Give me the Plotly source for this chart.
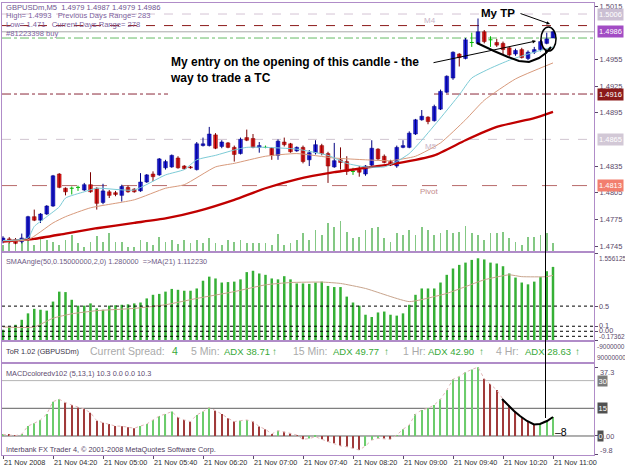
import plotly.graph_objects as go

FONT = "Liberation Sans"
BORDER = "#b08cc8"
AXTXT = "#5a4a6a"
MTTXT = "#7d5f9e"

# ---------------- data ----------------
# time axis: one bar every 5 minutes starting 21 Nov 2008 03:40
tick_bar = [0, 8, 16, 24, 32, 40, 48, 56, 64, 72, 80, 88]
tick_text = ["21 Nov 2008", "21 Nov 04:20", "21 Nov 05:00", "21 Nov 05:40", "21 Nov 06:20",
             "21 Nov 07:00", "21 Nov 07:40", "21 Nov 08:20", "21 Nov 09:00", "21 Nov 09:40",
             "21 Nov 10:20", "21 Nov 11:00"]

open_ = [1.4751, 1.4753, 1.4752, 1.4750, 1.4753, 1.4778, 1.4774, 1.4781, 1.4790, 1.4826,
         1.4810, 1.4810, 1.4811, 1.4808, 1.4814, 1.4810, 1.4794, 1.4806, 1.4805, 1.4802,
         1.4811, 1.4809, 1.4807, 1.4817, 1.4826, 1.4825, 1.4833, 1.4834, 1.4844, 1.4835,
         1.4834, 1.4831, 1.4858, 1.4858, 1.4870, 1.4857, 1.4861, 1.4856, 1.4849, 1.4867,
         1.4866, 1.4856, 1.4856, 1.4855, 1.4847, 1.4862, 1.4860, 1.4852, 1.4856, 1.4842,
         1.4850, 1.4858, 1.4849, 1.4834, 1.4842, 1.4840, 1.4829, 1.4831, 1.4826, 1.4836,
         1.4854, 1.4846, 1.4840, 1.4835, 1.4856, 1.4856, 1.4871, 1.4887, 1.4890, 1.4886,
         1.4899, 1.4918, 1.4934, 1.4961, 1.4956, 1.4974, 1.4973, 1.4986, 1.4977, 1.4974,
         1.4973, 1.4968, 1.4961, 1.4966, 1.4956, 1.4963, 1.4966, 1.4973, 1.4979]
high_ = [1.4756, 1.4755, 1.4754, 1.4759, 1.4779, 1.4786, 1.4782, 1.4791, 1.4825, 1.4827,
         1.4811, 1.4812, 1.4813, 1.4816, 1.4828, 1.4811, 1.4815, 1.4808, 1.4807, 1.4814,
         1.4813, 1.4810, 1.4827, 1.4826, 1.4829, 1.4844, 1.4842, 1.4848, 1.4846, 1.4836,
         1.4835, 1.4862, 1.4867, 1.4879, 1.4872, 1.4864, 1.4862, 1.4858, 1.4867, 1.4876,
         1.4871, 1.4862, 1.4858, 1.4856, 1.4865, 1.4867, 1.4861, 1.4857, 1.4858, 1.4853,
         1.4864, 1.4860, 1.4851, 1.4861, 1.4856, 1.4846, 1.4833, 1.4835, 1.4836, 1.4864,
         1.4855, 1.4848, 1.4842, 1.4858, 1.4864, 1.4874, 1.4888, 1.4898, 1.4891, 1.4904,
         1.4921, 1.4937, 1.4964, 1.4962, 1.4979, 1.4985, 1.5001, 1.4988, 1.4981, 1.4978,
         1.4975, 1.4969, 1.4967, 1.4968, 1.4965, 1.4969, 1.4977, 1.4985, 1.4987]
low_ = [1.4748, 1.4748, 1.4747, 1.4748, 1.4752, 1.4773, 1.4771, 1.4780, 1.4789, 1.4810,
        1.4802, 1.4803, 1.4807, 1.4807, 1.4805, 1.4786, 1.4792, 1.4799, 1.4801, 1.4795,
        1.4805, 1.4805, 1.4806, 1.4816, 1.4818, 1.4824, 1.4831, 1.4833, 1.4832, 1.4831,
        1.4832, 1.4830, 1.4857, 1.4857, 1.4854, 1.4855, 1.4855, 1.4840, 1.4848, 1.4863,
        1.4855, 1.4850, 1.4855, 1.4842, 1.4842, 1.4857, 1.4850, 1.4851, 1.4838, 1.4835,
        1.4848, 1.4847, 1.4816, 1.4833, 1.4831, 1.4825, 1.4825, 1.4823, 1.4824, 1.4835,
        1.4842, 1.4838, 1.4835, 1.4833, 1.4855, 1.4855, 1.4870, 1.4886, 1.4882, 1.4885,
        1.4898, 1.4917, 1.4932, 1.4947, 1.4955, 1.4969, 1.4972, 1.4973, 1.4969, 1.4969,
        1.4960, 1.4958, 1.4959, 1.4956, 1.4954, 1.4961, 1.4964, 1.4972, 1.4979]
close_ = [1.4754, 1.4750, 1.4748, 1.4754, 1.4778, 1.4774, 1.4781, 1.4790, 1.4824, 1.4811,
          1.4806, 1.4810, 1.4811, 1.4814, 1.4806, 1.4793, 1.4807, 1.4802, 1.4803, 1.4812,
          1.4806, 1.4806, 1.4817, 1.4825, 1.4823, 1.4843, 1.4840, 1.4847, 1.4833, 1.4832,
          1.4833, 1.4860, 1.4860, 1.4871, 1.4855, 1.4862, 1.4856, 1.4848, 1.4865, 1.4864,
          1.4856, 1.4858, 1.4856, 1.4847, 1.4863, 1.4859, 1.4851, 1.4856, 1.4840, 1.4850,
          1.4859, 1.4849, 1.4835, 1.4841, 1.4839, 1.4829, 1.4829, 1.4828, 1.4835, 1.4855,
          1.4843, 1.4839, 1.4836, 1.4856, 1.4858, 1.4872, 1.4887, 1.4891, 1.4885, 1.4902,
          1.4919, 1.4936, 1.4963, 1.4957, 1.4977, 1.4974, 1.4986, 1.4975, 1.4977, 1.4971,
          1.4966, 1.4960, 1.4965, 1.4957, 1.4963, 1.4966, 1.4975, 1.4978, 1.4986]
volume = [6, 8, 8, 9, 11, 6, 13, 11, 9, 6, 11, 16, 8, 4, 9, 15, 9, 18, 9, 9,
          4, 4, 11, 9, 6, 14, 9, 11, 7, 11, 8, 11, 8, 13, 8, 6, 11, 9, 11, 8,
          8, 8, 8, 6, 17, 6, 8, 11, 18, 11, 21, 16, 28, 24, 30, 19, 13, 14, 21, 23,
          24, 13, 9, 18, 16, 21, 16, 24, 21, 16, 18, 21, 18, 19, 25, 18, 16, 11, 18, 18,
          19, 13, 9, 6, 14, 14, 16, 18, 8]

ma_fast_bar = [0, 4, 5, 7, 9, 10, 13, 15, 21, 26, 29, 31, 34, 37, 39, 42, 47, 52, 55, 58,
               61, 63, 65, 67, 70, 73, 75, 78, 81, 84, 88]
ma_fast = [1.4751, 1.4754, 1.4767, 1.4778, 1.4789, 1.4799, 1.4806, 1.4810, 1.4808, 1.4825,
           1.4831, 1.4842, 1.4847, 1.4853, 1.4856, 1.4856, 1.4854, 1.4847, 1.4838, 1.4834,
           1.4834, 1.4840, 1.4849, 1.4864, 1.4889, 1.4915, 1.4934, 1.4945, 1.4954, 1.4961, 1.4969]
ma_mid_bar = [0, 4, 8, 10, 14, 21, 26, 29, 34, 37, 42, 47, 53, 58, 62, 66, 70, 74, 77, 82, 88]
ma_mid = [1.4751, 1.4752, 1.4771, 1.4778, 1.4788, 1.4797, 1.4810, 1.4814, 1.4834, 1.4838,
          1.4846, 1.4849, 1.4844, 1.4842, 1.4841, 1.4846, 1.4861, 1.4887, 1.4909, 1.4933, 1.4951]
ma_slow_bar = [0, 5, 10, 15, 21, 26, 31, 37, 42, 47, 53, 58, 63, 69, 74, 79, 85, 88]
ma_slow = [1.4750, 1.4753, 1.4759, 1.4765, 1.4771, 1.4776, 1.4784, 1.4797, 1.4810, 1.4820,
           1.4828, 1.4833, 1.4838, 1.4847, 1.4864, 1.4879, 1.4889, 1.4896]

price_range = [1.47394, 1.50184]
price_ticks = [1.5015, 1.4955, 1.4925, 1.4895, 1.4835, 1.4805, 1.4775, 1.4745]
level_price = [1.5006, 1.4993, 1.4986, 1.4979, 1.4916, 1.4865, 1.4813]
level_color = ["#d4c4d4", "#8b1a1a", "#a8a8a8", "#66bb66", "#8b2a3a", "#d0c4d0", "#b86a6a"]
level_dash = ["dash", "dash", "solid", "dashdot", "dashdot", "dash", "longdash"]
box_price = [1.5006, 1.4986, 1.4916, 1.4865, 1.4813]
box_color = ["#cbbfd3", "#a24cc4", "#8b1a1a", "#d2c8d6", "#f27e6e"]

sma_angle = [0.030, 0.083, 0.129, 0.228, 0.356, 0.446, 0.428, 0.410, 0.590, 0.788,
             0.779, 0.626, 0.509, 0.509, 0.554, 0.455, 0.428, 0.509, 0.518, 0.527,
             0.536, 0.554, 0.572, 0.653, 0.725, 0.743, 0.788, 0.842, 0.824, 0.806,
             0.806, 0.851, 1.005, 1.086, 1.050, 0.969, 0.978, 0.987, 1.032, 1.176,
             1.203, 1.149, 1.122, 1.050, 1.032, 1.095, 1.032, 0.951, 0.951, 0.942,
             0.969, 0.987, 0.901, 0.879, 0.879, 0.689, 0.572, 0.509, 0.329, 0.284,
             0.374, 0.392, 0.329, 0.311, 0.356, 0.527, 0.725, 0.851, 0.851, 0.851,
             0.969, 1.122, 1.248, 1.320, 1.365, 1.419, 1.451, 1.428, 1.365, 1.347,
             1.293, 1.149, 1.068, 0.969, 0.933, 0.987, 1.077, 1.194, 1.280]
sma_ma_bar = [0, 5, 8, 11, 15, 21, 26, 31, 37, 42, 46, 51, 54, 58, 65, 69, 71, 74, 77, 81, 83, 87, 88]
sma_ma = [0.085, 0.085, 0.26, 0.347, 0.41, 0.455, 0.527, 0.653, 0.788, 0.923, 0.969, 0.978,
          0.951, 0.851, 0.590, 0.689, 0.752, 0.887, 1.023, 1.122, 1.086, 1.086, 1.112]
sma_range = [-0.17362, 1.556125]
sma_levels = [0.5, 0.1, 0.0, -0.1]
sma_ticks = [1.556125, 0.5, 0.1, 0.0, -0.17362]
sma_tick_text = ["1.556125", "0.5", "0.1", "0.00", "-0.17362"]

macd = [0.8, 0.6, 0.2, 1.0, 5.4, 6.9, 8.7, 11.9, 18.6, 19.9,
        18.1, 16.8, 15.5, 14.6, 12.6, 8.3, 7.2, 6.5, 5.4, 5.3,
        4.7, 4.2, 5.4, 6.5, 8.7, 10.8, 11.9, 13.2, 10.1, 8.7,
        7.8, 11.4, 13.2, 15.5, 13.7, 11.9, 9.6, 7.8, 8.3, 8.7,
        7.8, 5.1, 3.6, 1.1, 2.9, 2.3, 1.4, 0.5, -1.8, -1.4,
        -0.4, -1.8, -3.1, -4.0, -5.4, -5.8, -6.7, -7.6, -5.4, -2.2,
        -1.3, -1.5, -1.8, 0.5, 3.6, 6.0, 11.9, 14.1, 15.0, 16.8,
        19.9, 24.9, 30.7, 32.2, 34.5, 36.0, 37.3, 31.0, 28.2, 24.9,
        19.9, 16.8, 13.2, 10.1, 7.8, 6.0, 6.9, 8.7, 10.3]
macd_range = [-10.3, 39.0]
macd_levels = [30, 15, 0]
macd_level_color = ["#b4b4b4", "#606060", "#606060"]
macd_ticks = [37.3, 0, -9.8]
macd_tick_text = ["37.3", "0.00", "-9.8"]
tor_labels = ["-9000000", "90000000"]

n = len(open_)
assert len(high_) == n and len(low_) == n and len(close_) == n and len(volume) == n
assert len(sma_angle) == n and len(macd) == n
assert len(ma_fast_bar) == len(ma_fast) and len(ma_mid_bar) == len(ma_mid)
assert len(ma_slow_bar) == len(ma_slow) and len(sma_ma_bar) == len(sma_ma)

# ---------------- geometry helpers (pixel -> paper) ----------------
W, H = 625, 469
ML, MR, MT, MB = 2, 31, 3, 14
PW, PH = W - ML - MR, H - MT - MB


def fx(px):
    return (px - ML) / PW


def fy(py):
    return (H - MB - py) / PH


XR = [-0.16, 94.56]
D_MAIN = [fy(251), 1.0]
D_SMA = [fy(340), fy(253)]
D_TOR = [fy(362), fy(342)]
D_MACD = [0.0, fy(364)]

bars = list(range(n))
bull = [i for i in bars if close_[i] > open_[i]]
bear = [i for i in bars if close_[i] < open_[i]]
doji = [i for i in bars if close_[i] == open_[i]]


def wicks(ids):
    xs, ys = [], []
    for i in ids:
        xs += [i, i, None]
        ys += [low_[i], high_[i], None]
    return xs, ys


fig = go.Figure()

# volume (base axis of main panel)
fig.add_trace(go.Bar(x=bars, y=volume, width=0.16, marker=dict(color="#84c884", line_width=0),
                     xaxis="x", yaxis="y", hoverinfo="skip"))

# candles on price axis (y5 overlays y)
for ids, wc in ((bull, "#000080"), (bear, "#7a0000"), (doji, "#00b400")):
    xs, ys = wicks(ids)
    fig.add_trace(go.Scatter(x=xs, y=ys, mode="lines", line=dict(color=wc, width=1),
                             xaxis="x", yaxis="y5", hoverinfo="skip"))
fig.add_trace(go.Bar(x=bull, y=[close_[i] - open_[i] for i in bull], base=[open_[i] for i in bull],
                     width=0.6, marker=dict(color="#1e1ee0", line=dict(color="#000080", width=0.5)),
                     xaxis="x", yaxis="y5", hoverinfo="skip"))
fig.add_trace(go.Bar(x=bear, y=[open_[i] - close_[i] for i in bear], base=[close_[i] for i in bear],
                     width=0.6, marker=dict(color="#e81c1c", line=dict(color="#8a0000", width=0.5)),
                     xaxis="x", yaxis="y5", hoverinfo="skip"))
dx, dy = [], []
for i in doji:
    dx += [i - 0.32, i + 0.32, None]
    dy += [open_[i], open_[i], None]
fig.add_trace(go.Scatter(x=dx, y=dy, mode="lines", line=dict(color="#00b400", width=1),
                         xaxis="x", yaxis="y5", hoverinfo="skip"))

# moving averages
fig.add_trace(go.Scatter(x=ma_slow_bar, y=ma_slow, mode="lines", line=dict(color="#c00000", width=2.3, shape="spline", smoothing=0.5),
                         xaxis="x", yaxis="y5", hoverinfo="skip"))
fig.add_trace(go.Scatter(x=ma_mid_bar, y=ma_mid, mode="lines", line=dict(color="#d89a7c", width=1, shape="spline", smoothing=0.5),
                         xaxis="x", yaxis="y5", hoverinfo="skip"))
fig.add_trace(go.Scatter(x=ma_fast_bar, y=ma_fast, mode="lines", line=dict(color="#7ccbd6", width=1, shape="spline", smoothing=0.5),
                         xaxis="x", yaxis="y5", hoverinfo="skip"))

# SMAAngle panel
fig.add_trace(go.Bar(x=bars, y=[v - sma_range[0] for v in sma_angle], base=sma_range[0], width=0.4,
                     marker=dict(color="#36b036", line_width=0), xaxis="x2", yaxis="y2", hoverinfo="skip"))
fig.add_trace(go.Scatter(x=sma_ma_bar, y=sma_ma, mode="lines", line=dict(color="#c8a48c", width=1, shape="spline", smoothing=0.5),
                         xaxis="x2", yaxis="y2", hoverinfo="skip"))

# ToR panel (text only)
fig.add_trace(go.Scatter(x=[], y=[], xaxis="x3", yaxis="y3"))

# MACD panel
mcol = ["#6ccc6c" if (i == 0 or macd[i] >= macd[i - 1]) else "#a03a3a" for i in bars]
fig.add_trace(go.Bar(x=bars, y=macd, width=0.18, marker=dict(color=mcol, line_width=0),
                     xaxis="x4", yaxis="y4", hoverinfo="skip"))
fig.add_trace(go.Scatter(x=bars, y=macd, mode="lines", line=dict(color="#e2b8b8", width=1, dash="dot"),
                         xaxis="x4", yaxis="y4", hoverinfo="skip"))

shapes = []
for p, c, d in zip(level_price, level_color, level_dash):
    shapes.append(dict(type="line", xref="x domain", yref="y5", x0=0, x1=1, y0=p, y1=p,
                       line=dict(color=c, width=1, dash=d), layer="below"))
for v in sma_levels:
    shapes.append(dict(type="line", xref="x2 domain", yref="y2", x0=0, x1=1, y0=v, y1=v,
                       line=dict(color="#000000", width=1, dash="dot"), layer="above"))
for v, c in zip(macd_levels, macd_level_color):
    shapes.append(dict(type="line", xref="x4 domain", yref="y4", x0=0, x1=1, y0=v, y1=v,
                       line=dict(color=c, width=1), layer="below"))

# hand drawn marks (pixel positions of the drawing)
shapes.append(dict(type="rect", xref="paper", yref="paper", x0=fx(168), x1=fx(431), y0=fy(101), y1=fy(50),
                   fillcolor="white", line_width=0, layer="above"))
shapes.append(dict(type="circle", xref="paper", yref="paper", x0=fx(541), x1=fx(556), y0=fy(51), y1=fy(27),
                   line=dict(color="black", width=1.5), layer="above"))


def ppath(pts):
    return "M " + " L ".join(f"{fx(a):.5f},{fy(b):.5f}" for a, b in pts)


shapes.append(dict(type="path", xref="paper", yref="paper",
                   path=ppath([(477, 43), (494, 51), (508, 57), (519, 61), (529, 62), (539, 58), (546, 53), (551, 47)]),
                   line=dict(color="black", width=2), layer="above"))
shapes.append(dict(type="path", xref="paper", yref="paper",
                   path=ppath([(502, 399), (508, 405), (514, 411), (520, 416), (527, 421), (534, 424.5), (540, 424), (547, 421), (553, 417)]),
                   line=dict(color="black", width=2), layer="above"))
shapes.append(dict(type="line", xref="paper", yref="paper", x0=fx(545.5), x1=fx(545.5), y0=fy(418), y1=fy(51),
                   line=dict(color="black", width=1), layer="above"))


def ann(px, py, text, size=7.5, color=MTTXT, xanchor="left", bold=False, **kw):
    t = f"<b>{text}</b>" if bold else text
    return dict(x=fx(px), y=fy(py), xref="paper", yref="paper", text=t, showarrow=False,
                xanchor=xanchor, yanchor="middle", font=dict(family=FONT, size=size, color=color), **kw)


NB = "\u00a0"
anns = [
    ann(4, 7, f"GBPUSDm,M5{NB}{NB}1.4979{NB}1.4987{NB}1.4979{NB}1.4986", 7.6, "#6e5490"),
    ann(4, 15.5, f"High={NB}1.4993{NB}{NB}{NB}Previous{NB}Days{NB}Range={NB}283", 7.6),
    ann(4, 24, f"Low={NB}1.471{NB}{NB}{NB}Current{NB}Days{NB}Range={NB}278", 7.6),
    ann(4, 33, "#81223398 buy", 7.6),
    ann(422, 20, "M4", 8, "#c8b4c8"),
    ann(423, 146, "M5", 8, "#c8b4c8"),
    ann(418, 191, "Pivot", 8, "#c48c8c"),
    ann(4, 261, f"SMAAngle(50,0.15000000,2,0){NB}1.280000{NB}{NB}=>MA(21){NB}1.112230", 7.3, "#6e5a84"),
    ann(4, 373, "MACDcoloredv102 (5,13,1) 10.3 0.0 0.0 10.3", 7.3, "#5e4a70"),
    ann(4, 449, "Interbank FX Trader 4, © 2001-2008 MetaQuotes Software Corp.", 7.3, "#4e3c60"),
    ann(4, 351, "ToR 1.02 (GBPUSDm)", 7.3, "#3c3448"),
    ann(88, 351, "Current Spread:", 10.5, "#aaaaaa"),
    ann(170, 351, "4", 10.5, "#38a838"),
    ann(189, 351, "5 Min:", 10.5, "#aaaaaa"),
    ann(222, 351, "ADX 38.71", 9.5, "#38a838"),
    ann(270, 351, "↑", 10, "#38a838", bold=True),
    ann(291, 351, "15 Min:", 10.5, "#aaaaaa"),
    ann(331, 351, "ADX 49.77", 9.5, "#38a838"),
    ann(382, 351, "↑", 10, "#38a838", bold=True),
    ann(401, 351, "1 Hr:", 10.5, "#aaaaaa"),
    ann(426, 351, "ADX 42.90", 9.5, "#38a838"),
    ann(477, 351, "↑", 10, "#38a838", bold=True),
    ann(494, 351, "4 Hr:", 10.5, "#aaaaaa"),
    ann(523, 351, "ADX 28.63", 9.5, "#38a838"),
    ann(573, 351, "↑", 10, "#38a838", bold=True),
    ann(595, 346.5, tor_labels[0], 6.5, AXTXT),
    ann(595, 357.5, tor_labels[1], 6.5, AXTXT),
    ann(479, 13, "My TP", 11.5, "black", bold=True),
    ann(553, 432, "–8", 10.5, "black"),
    dict(x=fx(168), y=fy(53), xref="paper", yref="paper", xanchor="left", yanchor="top", align="left",
         showarrow=False, text="<b>My entry on the opening of this candle - the<br>way to trade a TC</b>",
         font=dict(family=FONT, size=12, color="black")),
    dict(x=fx(550), y=fy(24), xref="paper", yref="paper", ax=-31, ay=-11, showarrow=True,
         arrowhead=2, arrowsize=0.7, arrowwidth=1, arrowcolor="black", text=""),
    dict(x=fx(536), y=fy(41), xref="paper", yref="paper", ax=-104, ay=22, showarrow=True,
         arrowhead=2, arrowsize=0.7, arrowwidth=1, arrowcolor="black", text=""),
]
# right-hand scale labels of the sub windows (MetaTrader draws them inset from the edges)
sma_label_px = [258, 306, 325, 330, 337]
sma_label_size = [6.5, 7.3, 7.3, 7.3, 6.5]
for t, py, sz in zip(sma_tick_text, sma_label_px, sma_label_size):
    anns.append(ann(597, py, t, sz, AXTXT))
macd_label_px = [372, 436, 450]
for t, py in zip(macd_tick_text, macd_label_px):
    anns.append(ann(598, py, t, 7.3, AXTXT))
for p, c in zip(box_price, box_color):
    anns.append(dict(x=fx(596.5), y=p, xref="paper", yref="y5", text=f"{p:.4f}", showarrow=False,
                     xanchor="left", yanchor="middle", bgcolor=c, borderpad=1,
                     font=dict(family=FONT, size=7.5, color="white")))
for v, c in zip(macd_levels, ["#7a7a7a", "#505050", "#505050"]):
    anns.append(dict(x=fx(596.5), y=v, xref="paper", yref="y4", text=f"{v}", showarrow=False,
                     xanchor="left", yanchor="middle", bgcolor=c, borderpad=0.5,
                     font=dict(family=FONT, size=7.5, color="white")))

xbase = dict(range=XR, showgrid=False, zeroline=False, showline=True, mirror=True,
             linecolor=BORDER, linewidth=1, fixedrange=True, automargin=False)
ybase = dict(showgrid=False, zeroline=False, fixedrange=True, automargin=False)
tickf = dict(family=FONT, size=7.5, color=AXTXT)

fig.update_layout(
    width=W, height=H, margin=dict(l=ML, r=MR, t=MT, b=MB, autoexpand=False),
    paper_bgcolor="white", plot_bgcolor="white", showlegend=False, barmode="overlay",
    xaxis=dict(**xbase, anchor="y", showticklabels=False, ticks=""),
    yaxis=dict(**ybase, domain=D_MAIN, range=[0, 248], showticklabels=False, ticks="",
               showline=True, mirror=True, linecolor=BORDER, anchor="x"),
    yaxis5=dict(**ybase, overlaying="y", side="right", anchor="x", range=price_range,
                tickvals=price_ticks, ticktext=[f"{v:.4f}" for v in price_ticks],
                ticks="outside", ticklen=3, tickcolor=AXTXT, tickfont=tickf),
    xaxis2=dict(**xbase, anchor="y2", showticklabels=False, ticks=""),
    yaxis2=dict(**ybase, domain=D_SMA, range=sma_range, side="right", anchor="x2",
                tickvals=sma_ticks, showticklabels=False, ticks="outside", ticklen=3,
                tickcolor=AXTXT, showline=True, mirror=True, linecolor=BORDER),
    xaxis3=dict(**xbase, anchor="y3", showticklabels=False, ticks=""),
    yaxis3=dict(**ybase, domain=D_TOR, range=[0, 1], side="right", anchor="x3",
                showticklabels=False, ticks="", showline=True, mirror=True, linecolor=BORDER),
    xaxis4=dict(**xbase, anchor="y4", tickvals=tick_bar, ticktext=tick_text, ticks="outside",
                ticklen=3, tickcolor=AXTXT, ticklabelposition="outside right", tickangle=0,
                tickfont=dict(family=FONT, size=7.3, color="#2e2e2e")),
    yaxis4=dict(**ybase, domain=D_MACD, range=macd_range, side="right", anchor="x4",
                tickvals=macd_ticks, showticklabels=False, ticks="outside", ticklen=3,
                tickcolor=AXTXT, showline=True, mirror=True, linecolor=BORDER),
    shapes=shapes, annotations=anns,
)

fig.write_html("out.html")
